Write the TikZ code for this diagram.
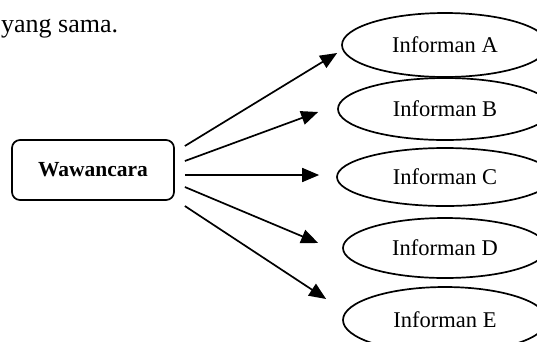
\documentclass[tikz,border=0pt]{standalone}
\usepackage{fontspec}
\setmainfont{Liberation Serif}
\usetikzlibrary{shapes.geometric,arrows.meta}
\begin{document}
\begin{tikzpicture}[x=1pt,y=-1pt,
  inf/.style={draw,line width=1.7pt,ellipse,inner sep=0pt,font=\fontsize{22.5}{26}\selectfont},
  box/.style={draw,line width=1.7pt,rounded corners=8pt,inner sep=0pt,font=\bfseries\fontsize{21.5}{26}\selectfont},
  arr/.style={line width=1.7pt,-{Triangle[length=17pt,width=14pt]}}]
\useasboundingbox (0,0) rectangle (537,341);
\node[anchor=base west,inner sep=0pt,font=\fontsize{26}{30}\selectfont] (txt) at (1,32) {yang sama.};
\node[box,minimum width=162pt,minimum height=60pt] (w) at (93,170) {Wawancara};
\node[inf,minimum width=206pt,minimum height=64pt] (a) at (445,45) {Informan A};
\node[inf,minimum width=214pt,minimum height=62pt] (b) at (445,109) {Informan B};
\node[inf,minimum width=216pt,minimum height=58pt] (c) at (445,177) {Informan C};
\node[inf,minimum width=204pt,minimum height=60pt] (d) at (445,248) {Informan D};
\node[inf,minimum width=204pt,minimum height=66pt] (e) at (445,320) {Informan E};
\draw[arr] ([shift={(10,-24)}]w.east) -- ([shift={(-4,8)}]a.west);
\draw[arr] ([shift={(10,-9)}]w.east) -- ([shift={(-19,3)}]b.west);
\draw[arr] ([shift={(10,5)}]w.east) -- ([shift={(-17,-2)}]c.west);
\draw[arr] ([shift={(10,17)}]w.east) -- ([shift={(-24,-5)}]d.west);
\draw[arr] ([shift={(10,36)}]w.east) -- ([shift={(-16,-21)}]e.west);
\end{tikzpicture}
\end{document}
